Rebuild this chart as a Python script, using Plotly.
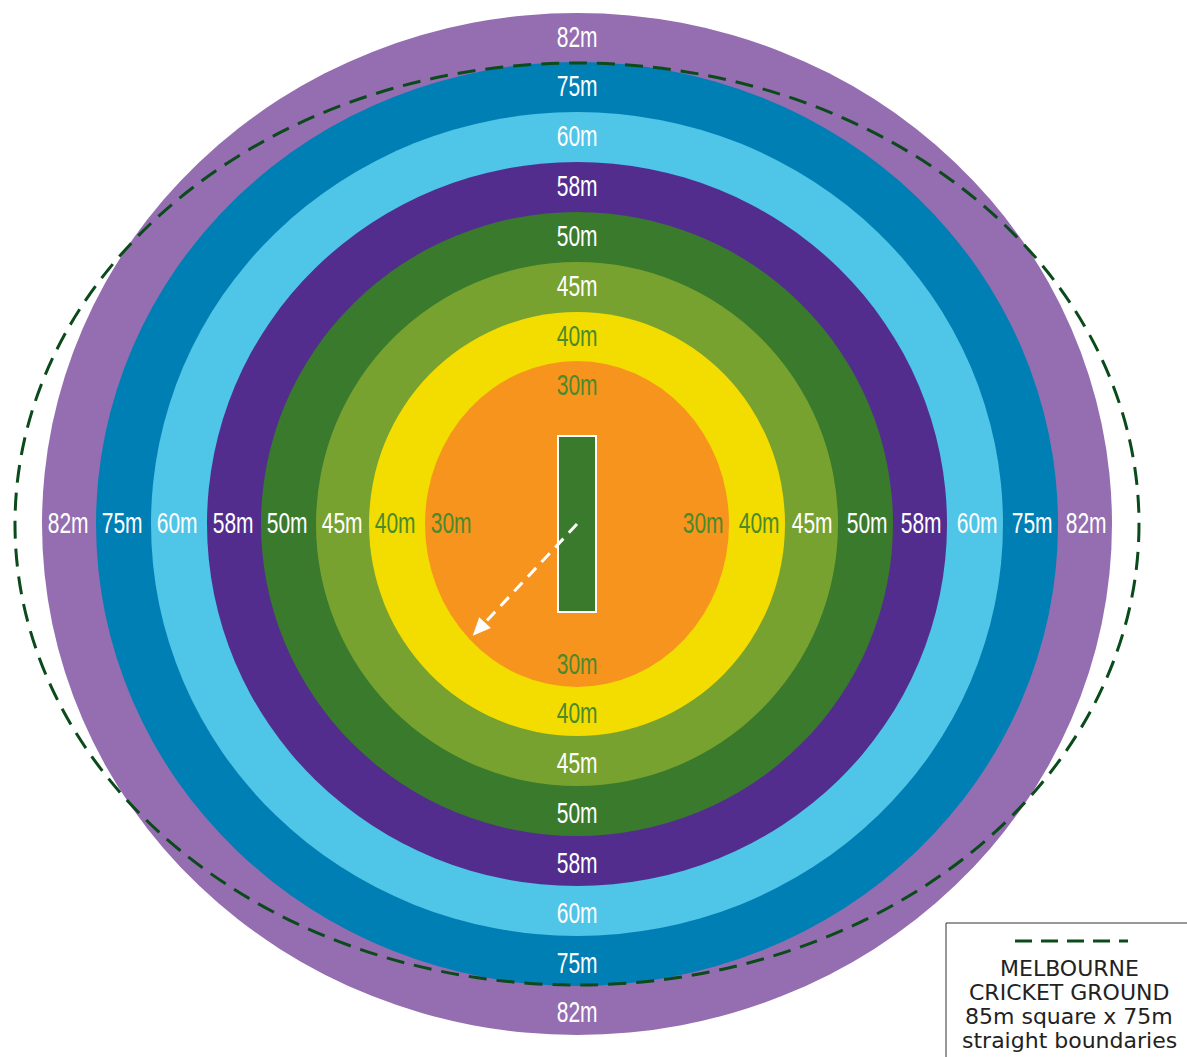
import plotly.graph_objects as go
import math

# ---- data ----
distances = ["82m", "75m", "60m", "58m", "50m", "45m", "40m", "30m"]
ring_colors = ["#946eb0", "#007fb4", "#4fc5e8", "#522d8e", "#3a7a2c", "#78a22f", "#f3dc00", "#f7941e"]
label_colors = ["white", "white", "white", "white", "white", "white", "#4a8a2b", "#4a8a2b"]
ring_rx = [535, 481, 426, 370, 316, 261, 208, 152]
ring_ry = [511, 462, 412, 362, 312, 262, 212, 163]
center = (577, 524)
boundary_rx, boundary_ry = 562, 461
pitch_half_w, pitch_half_h = 19, 88
arrow_angle_deg = 225
legend_lines = ["MELBOURNE", "CRICKET GROUND", "85m square x 75m", "straight boundaries"]

W, H = 1187, 1057
cx, cy = center
shapes = []
annotations = []

# rings
for rx, ry, col in zip(ring_rx, ring_ry, ring_colors):
    shapes.append(dict(type="circle", xref="x", yref="y", x0=cx - rx, x1=cx + rx,
                       y0=cy - ry, y1=cy + ry, fillcolor=col, line=dict(width=0), layer="below"))

# pitch
shapes.append(dict(type="rect", xref="x", yref="y", x0=cx - pitch_half_w, x1=cx + pitch_half_w,
                   y0=cy - pitch_half_h, y1=cy + pitch_half_h, fillcolor="#3a7a2c",
                   line=dict(color="white", width=2), layer="below"))

# boundary dashed ellipse
shapes.append(dict(type="circle", xref="x", yref="y", x0=cx - boundary_rx, x1=cx + boundary_rx,
                   y0=cy - boundary_ry, y1=cy + boundary_ry, fillcolor="rgba(0,0,0,0)",
                   line=dict(color="#0b4a1b", width=3, dash="18px,10px")))

# arrow towards 30m boundary
a = math.radians(arrow_angle_deg)
tip_x = cx + 0.97 * ring_rx[-1] * math.cos(a)
tip_y = cy - 0.97 * ring_ry[-1] * math.sin(a)
dx, dy = tip_x - cx, tip_y - cy
L = math.hypot(dx, dy)
ux, uy = dx / L, dy / L
head_len, head_w = 18, 8
bx, by = tip_x - ux * head_len, tip_y - uy * head_len
shapes.append(dict(type="line", xref="x", yref="y", x0=cx, y0=cy, x1=bx + ux * 2, y1=by + uy * 2,
                   line=dict(color="white", width=3, dash="12px,8px")))
px, py = -uy, ux
shapes.append(dict(type="path", xref="x", yref="y",
                   path=f"M {tip_x},{tip_y} L {bx + px*head_w},{by + py*head_w} L {bx - px*head_w},{by - py*head_w} Z",
                   fillcolor="white", line=dict(width=0)))

# ring labels
font_fam = "Liberation Sans, Arial, sans-serif"
for lab, rx, ry, lc in zip(distances, ring_rx, ring_ry, label_colors):
    for (x, y) in [(cx, cy - ry + 23), (cx, cy + ry - 24), (cx - rx + 26, cy - 2), (cx + rx - 26, cy - 2)]:
        annotations.append(dict(x=x, y=y, xref="x", yref="y", text=lab, showarrow=False,
                                font=dict(family=font_fam, size=30, color=lc),
                                xanchor="center", yanchor="middle"))

# legend box
shapes.append(dict(type="rect", xref="x", yref="y", x0=946, x1=1200, y0=923, y1=1070,
                   fillcolor="white", line=dict(color="#333333", width=1)))
shapes.append(dict(type="line", xref="x", yref="y", x0=1015, x1=1128, y0=941, y1=941,
                   line=dict(color="#0b4a1b", width=3, dash="17px,9px")))
for i, t in enumerate(legend_lines):
    annotations.append(dict(x=1069, y=968 + 24 * i, xref="x", yref="y", text=t, showarrow=False,
                            font=dict(family="DejaVu Sans, sans-serif", size=22, color="#222222"),
                            xanchor="center", yanchor="middle"))

fig = go.Figure()
fig.add_trace(go.Scatter(x=[0, W], y=[0, H], mode="markers", marker=dict(opacity=0), hoverinfo="skip",
                         showlegend=False))
fig.update_layout(
    width=W, height=H, margin=dict(l=0, r=0, t=0, b=0),
    paper_bgcolor="white", plot_bgcolor="white",
    xaxis=dict(range=[0, W], visible=False, fixedrange=True),
    yaxis=dict(range=[H, 0], visible=False, fixedrange=True),
    shapes=shapes, annotations=annotations, showlegend=False,
)

post = """
document.body.style.margin = '0';
document.querySelectorAll('text.annotation-text').forEach(function(t){
  if (/^\\d+m$/.test(t.textContent)) {
    t.style.transformBox = 'fill-box';
    t.style.transformOrigin = 'center';
    t.style.transform = 'scaleX(0.7)';
  }
});
"""
fig.write_html("out.html", post_script=post, config={"displayModeBar": False})
